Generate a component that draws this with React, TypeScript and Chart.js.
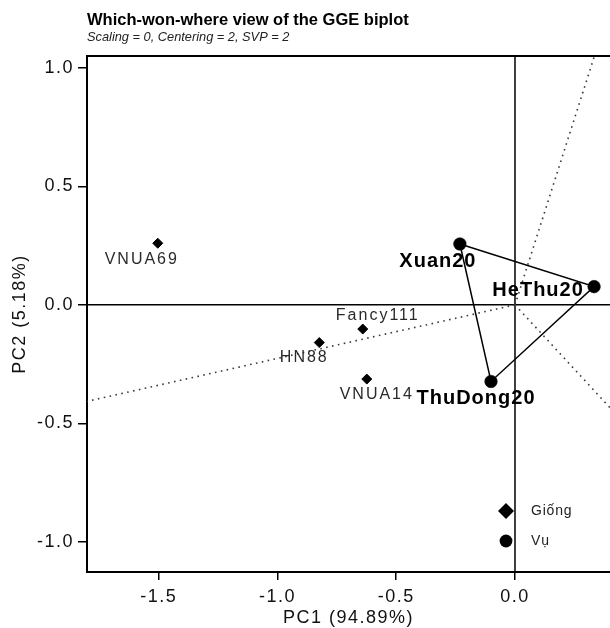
import React, { useEffect, useRef } from 'react';
import { Chart, registerables } from 'chart.js';

Chart.register(...registerables);

// ---- data ----
const genotypeNames = ['VNUA69', 'Fancy111', 'HN88', 'VNUA14'];
const genotypePC1 = [-1.504, -0.641, -0.824, -0.624];
const genotypePC2 = [0.26, -0.102, -0.159, -0.313];

const environmentNames = ['Xuan20', 'HeThu20', 'ThuDong20'];
const environmentPC1 = [-0.232, 0.333, -0.101];
const environmentPC2 = [0.257, 0.077, -0.323];

// polygon vertices (indices into environments), closed
const hullOrder = [0, 1, 2, 0];

const titleText = 'Which-won-where view of the GGE biplot';
const subtitleText = 'Scaling = 0, Centering = 2, SVP = 2';
const xAxisTitle = 'PC1 (94.89%)';
const yAxisTitle = 'PC2 (5.18%)';
const legendLabels = ['Giống', 'Vụ'];

const xRange = [-1.802, 0.4];
const yRange = [-1.127, 1.05];
const tickStep = 0.5;

// ---- layout (label offsets in px, text centre relative to the point) ----
const genotypeLabelOffsets = [[-16, 16], [15, -13], [-15, 15], [10, 16]];
const environmentLabelOffsets = [[-22, 18], [-56, 4], [-15, 17]];

const FONT = '"Liberation Sans", Arial, Helvetica, sans-serif';

const biplotPlugin = {
  id: 'biplotDecor',
  beforeDraw(chart: any) {
    chart.ctx.letterSpacing = '1.5px';
  },
  beforeDatasetsDraw(chart: any) {
    const { ctx, chartArea: a, scales } = chart;
    const x0 = scales.x.getPixelForValue(0);
    const y0 = scales.y.getPixelForValue(0);
    ctx.save();
    ctx.strokeStyle = '#000';
    ctx.lineWidth = 1.5;
    ctx.beginPath();
    ctx.moveTo(x0, a.top);
    ctx.lineTo(x0, a.bottom);
    ctx.moveTo(a.left, y0);
    ctx.lineTo(a.right, y0);
    ctx.stroke();
    ctx.lineWidth = 2;
    ctx.beginPath();
    ctx.moveTo(a.left - 1, a.top);
    ctx.lineTo(a.right, a.top);
    ctx.stroke();
    ctx.restore();
  },
  afterDatasetsDraw(chart: any) {
    const { ctx, chartArea: a, scales } = chart;
    const xs = scales.x, ys = scales.y;
    ctx.save();
    ctx.textAlign = 'center';
    ctx.textBaseline = 'middle';
    // genotype labels
    ctx.font = `16px ${FONT}`;
    ctx.letterSpacing = '2px';
    ctx.fillStyle = '#2a2a2a';
    genotypeNames.forEach((n, i) => {
      const px = xs.getPixelForValue(genotypePC1[i]);
      const py = ys.getPixelForValue(genotypePC2[i]);
      ctx.fillText(n, px + genotypeLabelOffsets[i][0], py + genotypeLabelOffsets[i][1]);
    });
    // environment labels
    ctx.font = `bold 20px ${FONT}`;
    ctx.letterSpacing = '1px';
    ctx.fillStyle = '#000';
    environmentNames.forEach((n, i) => {
      const px = xs.getPixelForValue(environmentPC1[i]);
      const py = ys.getPixelForValue(environmentPC2[i]);
      ctx.fillText(n, px + environmentLabelOffsets[i][0], py + environmentLabelOffsets[i][1]);
    });
    // legend
    const lx = a.right - 104;
    const ly1 = a.bottom - 61;
    const ly2 = a.bottom - 31;
    ctx.fillStyle = '#000';
    ctx.beginPath();
    ctx.moveTo(lx - 8, ly1);
    ctx.lineTo(lx, ly1 - 8);
    ctx.lineTo(lx + 8, ly1);
    ctx.lineTo(lx, ly1 + 8);
    ctx.closePath();
    ctx.fill();
    ctx.beginPath();
    ctx.arc(lx, ly2, 6.4, 0, Math.PI * 2);
    ctx.fill();
    ctx.font = `14px ${FONT}`;
    ctx.letterSpacing = '0.8px';
    ctx.textAlign = 'left';
    ctx.fillStyle = '#222';
    ctx.fillText(legendLabels[0], lx + 25, ly1);
    ctx.fillText(legendLabels[1], lx + 25, ly2);
    ctx.restore();
  },
  afterDraw(chart: any) {
    const { ctx, chartArea: a } = chart;
    ctx.save();
    ctx.fillStyle = '#000';
    ctx.textBaseline = 'alphabetic';
    ctx.textAlign = 'left';
    ctx.letterSpacing = '0px';
    ctx.font = `bold 16.5px ${FONT}`;
    ctx.fillText(titleText, a.left, 25);
    ctx.font = `italic 12.8px ${FONT}`;
    ctx.fillStyle = '#222';
    ctx.fillText(subtitleText, a.left, 41);
    // axis titles
    ctx.letterSpacing = '1.5px';
    ctx.font = `18px ${FONT}`;
    ctx.fillStyle = '#111';
    ctx.textAlign = 'center';
    ctx.textBaseline = 'middle';
    ctx.fillText(xAxisTitle, (a.left + a.right) / 2, 618);
    ctx.translate(20, (a.top + a.bottom) / 2);
    ctx.rotate(-Math.PI / 2);
    ctx.fillText(yAxisTitle, 0, 0);
    ctx.restore();
    ctx.letterSpacing = '0px';
  },
};

export default function App() {
  const ref = useRef<HTMLCanvasElement>(null);

  useEffect(() => {
    const canvas = ref.current;
    if (!canvas) return;

    const genotypePoints = genotypePC1.map((x, i) => ({ x, y: genotypePC2[i] }));
    const environmentPoints = environmentPC1.map((x, i) => ({ x, y: environmentPC2[i] }));
    const polygon = hullOrder.map((i) => ({ x: environmentPC1[i], y: environmentPC2[i] }));

    // rays from the origin perpendicular to each polygon side
    const rays: { x: number; y: number }[][] = [];
    for (let k = 0; k < hullOrder.length - 1; k++) {
      const a = polygon[k];
      const b = polygon[k + 1];
      const dx = b.x - a.x;
      const dy = b.y - a.y;
      const t = -(a.x * dx + a.y * dy) / (dx * dx + dy * dy);
      const fx = a.x + t * dx;
      const fy = a.y + t * dy;
      const len = Math.hypot(fx, fy);
      rays.push([
        { x: 0, y: 0 },
        { x: (fx / len) * 5, y: (fy / len) * 5 },
      ]);
    }

    const tickFont = { family: FONT, size: 18 };

    const chart = new Chart(canvas, {
      type: 'scatter',
      data: {
        datasets: [
          {
            label: legendLabels[0],
            data: genotypePoints,
            pointStyle: 'rectRot',
            pointRadius: 5,
            backgroundColor: '#000',
            borderColor: '#000',
            borderWidth: 1,
            order: 0,
          },
          {
            label: legendLabels[1],
            data: environmentPoints,
            pointStyle: 'circle',
            pointRadius: 6.3,
            backgroundColor: '#000',
            borderColor: '#000',
            borderWidth: 0.5,
            order: 0,
          },
          {
            label: 'polygon',
            data: polygon,
            showLine: true,
            pointRadius: 0,
            borderColor: '#000',
            borderWidth: 1.5,
            fill: false,
            order: 1,
          },
          ...rays.map((r, i) => ({
            label: 'ray' + i,
            data: r,
            showLine: true,
            pointRadius: 0,
            borderColor: '#3a3a3a',
            borderWidth: 1.6,
            borderDash: [1.6, 4.4],
            fill: false,
            order: 2,
          })),
        ],
      } as any,
      options: {
        responsive: false,
        animation: false,
        events: [],
        layout: { autoPadding: false, padding: { top: 56, left: 0, right: 0, bottom: 0 } },
        plugins: {
          legend: { display: false },
          tooltip: { enabled: false },
          title: { display: false },
        },
        scales: {
          x: {
            type: 'linear',
            min: xRange[0],
            max: xRange[1],
            afterFit: (s: any) => {
              s.height = 56;
              s.paddingLeft = 0;
              s.paddingRight = 0;
            },
            ticks: {
              stepSize: tickStep,
              includeBounds: false,
              maxRotation: 0,
              autoSkip: false,
              font: tickFont,
              color: '#111',
              padding: 6,
              callback: (v: any) => Number(v).toFixed(1),
            },
            grid: {
              display: true,
              drawOnChartArea: false,
              drawTicks: true,
              tickLength: 8,
              color: '#000',
              lineWidth: 1.5,
            },
            border: { display: true, color: '#000', width: 2 },
          },
          y: {
            type: 'linear',
            min: yRange[0],
            max: yRange[1],
            afterFit: (s: any) => {
              s.width = 87;
              s.paddingTop = 0;
              s.paddingBottom = 0;
            },
            ticks: {
              stepSize: tickStep,
              includeBounds: false,
              autoSkip: false,
              font: tickFont,
              color: '#111',
              padding: 4,
              callback: (v: any) => Number(v).toFixed(1),
            },
            grid: {
              display: true,
              drawOnChartArea: false,
              drawTicks: true,
              tickLength: 9,
              color: '#000',
              lineWidth: 1.5,
            },
            border: { display: true, color: '#000', width: 2 },
          },
        },
      } as any,
      plugins: [biplotPlugin],
    });

    return () => chart.destroy();
  }, []);

  return (
    <div style={{ position: 'absolute', left: 0, top: 0, width: 610, height: 628, background: '#fff' }}>
      <canvas ref={ref} width={610} height={628} style={{ display: 'block' }} />
    </div>
  );
}
